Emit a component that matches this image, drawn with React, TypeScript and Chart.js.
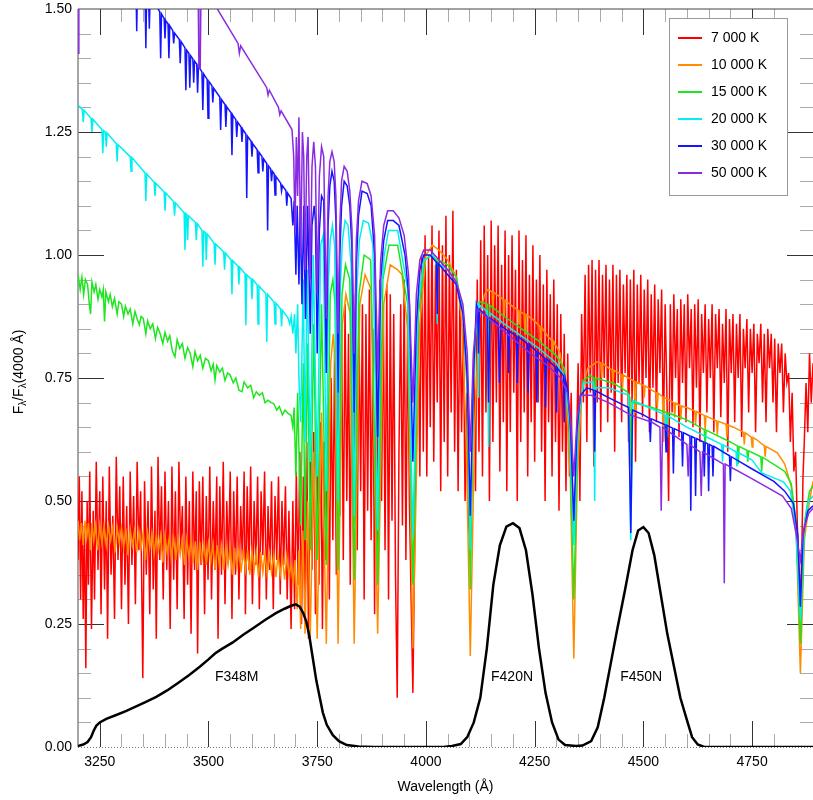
import React, { useEffect, useRef } from 'react';
import { Chart, registerables } from 'chart.js';

Chart.register(...registerables);

// ---------- data (wavelength Å, F/F(4000)) as flat pairs ----------
const seriesLabels = ['7 000 K', '10 000 K', '15 000 K', '20 000 K', '30 000 K', '50 000 K'];
const seriesColors = ['#ff0000', '#ff8c00', '#1ee61e', '#00f0f0', '#1414ff', '#8a2be2'];

const t7000 = [
  3200,0.38, 3203,0.55, 3206,0.3, 3209,0.52, 3212,0.26, 3215,0.45, 3218,0.16, 3221,0.5, 3224,0.33, 3227,0.56,
  3231,0.24, 3235,0.48, 3238,0.3, 3242,0.58, 3246,0.36, 3250,0.52, 3253,0.27, 3257,0.55, 3261,0.32, 3265,0.5,
  3268,0.22, 3272,0.57, 3276,0.35, 3280,0.47, 3284,0.26, 3288,0.59, 3292,0.38, 3296,0.53, 3300,0.28, 3304,0.55,
  3308,0.33, 3312,0.49, 3316,0.25, 3320,0.56, 3324,0.37, 3328,0.51, 3332,0.29, 3336,0.58, 3340,0.4, 3344,0.52,
  3349,0.14, 3353,0.54, 3357,0.35, 3361,0.5, 3365,0.27, 3369,0.57, 3373,0.32, 3377,0.48, 3380,0.22, 3384,0.59,
  3388,0.38, 3392,0.53, 3396,0.3, 3400,0.56, 3404,0.36, 3408,0.5, 3412,0.24, 3416,0.57, 3420,0.34, 3424,0.52,
  3428,0.28, 3432,0.58, 3436,0.4, 3440,0.49, 3444,0.26, 3448,0.55, 3452,0.33, 3456,0.5, 3460,0.23, 3464,0.56,
  3468,0.36, 3472,0.52, 3475,0.19, 3479,0.54, 3483,0.37, 3487,0.55, 3491,0.27, 3495,0.51, 3499,0.34, 3503,0.57,
  3507,0.3, 3511,0.5, 3515,0.36, 3519,0.55, 3522,0.22, 3526,0.53, 3530,0.35, 3534,0.58, 3538,0.29, 3542,0.5,
  3546,0.38, 3550,0.56, 3554,0.26, 3558,0.52, 3562,0.35, 3566,0.55, 3570,0.3, 3574,0.49, 3578,0.38, 3582,0.56,
  3585,0.27, 3589,0.53, 3593,0.36, 3597,0.57, 3601,0.29, 3605,0.5, 3609,0.37, 3613,0.55, 3617,0.28, 3621,0.52,
  3625,0.39, 3629,0.56, 3633,0.3, 3637,0.49, 3641,0.36, 3645,0.54, 3649,0.28, 3653,0.51, 3657,0.38, 3661,0.55,
  3665,0.31, 3669,0.5, 3673,0.37, 3677,0.53, 3681,0.3, 3685,0.48, 3690,0.24, 3694,0.5,
  3698,0.28, 3702,0.56, 3706,0.33, 3710,0.6, 3714,0.25, 3718,0.55, 3722,0.3, 3726,0.62, 3730,0.22, 3734,0.58,
  3738,0.36, 3742,0.64, 3746,0.27, 3750,0.6, 3754,0.33, 3758,0.66, 3762,0.24, 3766,0.62, 3770,0.38, 3774,0.7,
  3778,0.3, 3782,0.75, 3786,0.42, 3790,0.8, 3794,0.35, 3798,0.72, 3802,0.47, 3806,0.86, 3810,0.38, 3814,0.9,
  3818,0.5, 3822,0.84, 3826,0.33, 3830,0.88, 3834,0.45, 3838,0.92, 3842,0.4, 3846,0.86, 3850,0.52, 3854,0.9,
  3858,0.3, 3862,0.88, 3866,0.48, 3870,0.93, 3874,0.42, 3878,0.85, 3882,0.27, 3886,0.89, 3890,0.36, 3894,0.95,
  3898,0.5, 3902,0.9, 3906,0.4, 3910,0.94, 3914,0.3, 3918,0.92, 3922,0.46, 3926,0.88, 3930,0.35, 3934,0.1,
  3938,0.6, 3942,0.9, 3946,0.45, 3950,0.95, 3954,0.38, 3958,0.88, 3962,0.5, 3966,0.3, 3970,0.11, 3974,0.4,
  3978,0.7, 3982,0.9, 3986,0.55, 3990,1.0,
  3994,0.6, 3998,1.04, 4002,0.55, 4006,1.0, 4010,0.65, 4014,1.06, 4018,0.58, 4022,0.98, 4026,0.7, 4030,1.05,
  4034,0.52, 4038,1.02, 4042,0.62, 4046,1.08, 4050,0.55, 4054,1.0, 4058,0.68, 4062,1.09, 4066,0.6, 4070,0.97,
  4074,0.52, 4078,0.92, 4082,0.64, 4086,0.86, 4090,0.5, 4094,0.72, 4098,0.45, 4102,0.42, 4106,0.55, 4110,0.8,
  4114,0.52, 4118,0.95, 4122,0.6, 4126,1.03, 4130,0.55, 4134,1.06, 4138,0.68, 4142,1.0, 4146,0.5, 4150,1.07,
  4154,0.62, 4158,1.02, 4162,0.7, 4166,1.06, 4170,0.56, 4174,0.98, 4178,0.66, 4182,1.05, 4186,0.52, 4190,1.0,
  4194,0.64, 4198,1.04, 4202,0.72, 4206,0.97, 4210,0.5, 4214,1.05, 4218,0.62, 4222,0.99, 4226,0.68, 4230,1.04,
  4234,0.55, 4238,0.96, 4242,0.66, 4246,1.02, 4250,0.58, 4254,0.95, 4258,0.7, 4262,1.0, 4266,0.6, 4270,0.94,
  4274,0.5, 4278,0.97, 4282,0.66, 4286,0.92, 4290,0.55, 4294,0.95, 4298,0.62, 4302,0.9, 4306,0.48, 4310,0.88,
  4314,0.6, 4318,0.84, 4322,0.52, 4326,0.8, 4330,0.55, 4334,0.72, 4338,0.45, 4342,0.44, 4346,0.6, 4350,0.78,
  4354,0.5, 4358,0.88, 4362,0.7, 4366,0.96, 4370,0.62, 4374,0.98, 4378,0.72, 4382,0.99, 4386,0.57, 4390,0.97,
  4394,0.7, 4398,0.99, 4402,0.64, 4406,0.96, 4410,0.75, 4414,0.98, 4418,0.66, 4422,0.95, 4426,0.72, 4430,0.98,
  4434,0.6, 4438,0.96, 4442,0.74, 4446,0.97, 4450,0.66, 4454,0.94, 4458,0.76, 4462,0.96, 4466,0.62, 4470,0.95,
  4474,0.7, 4478,0.97, 4482,0.58, 4486,0.94, 4490,0.74, 4494,0.96, 4498,0.67, 4502,0.93, 4506,0.75, 4510,0.95,
  4514,0.64, 4518,0.92, 4522,0.73, 4526,0.94, 4530,0.66, 4534,0.91, 4538,0.76, 4542,0.93, 4546,0.62, 4550,0.9,
  4554,0.72, 4558,0.5, 4562,0.9, 4566,0.68, 4570,0.92, 4574,0.75, 4578,0.89, 4582,0.63, 4586,0.91, 4590,0.74,
  4594,0.9, 4598,0.66, 4602,0.92, 4606,0.77, 4610,0.89, 4614,0.65, 4618,0.9, 4622,0.73, 4626,0.91, 4630,0.62,
  4634,0.88, 4638,0.76, 4642,0.9, 4646,0.68, 4650,0.87, 4654,0.75, 4658,0.9, 4662,0.64, 4666,0.88, 4670,0.77,
  4674,0.89, 4678,0.67, 4682,0.86, 4686,0.74, 4690,0.89, 4694,0.6, 4698,0.87, 4702,0.76, 4706,0.88, 4710,0.66,
  4714,0.86, 4718,0.75, 4722,0.88, 4726,0.63, 4730,0.85, 4734,0.77, 4738,0.87, 4742,0.68, 4746,0.85, 4750,0.76,
  4754,0.86, 4758,0.64, 4762,0.84, 4766,0.78, 4770,0.86, 4774,0.7, 4778,0.84, 4782,0.66, 4786,0.85, 4790,0.77,
  4794,0.84, 4798,0.7, 4802,0.83, 4806,0.64, 4810,0.82, 4814,0.76, 4818,0.82, 4822,0.68, 4826,0.8, 4830,0.74,
  4834,0.76, 4838,0.62, 4842,0.72, 4846,0.56, 4850,0.6, 4854,0.45, 4858,0.36, 4861,0.3, 4864,0.38, 4867,0.55,
  4870,0.62, 4874,0.74, 4878,0.64, 4882,0.8, 4886,0.7, 4890,0.78,
];

const t10000 = [
  3200,0.46, 3204,0.42, 3208,0.455, 3212,0.41, 3216,0.46, 3220,0.425, 3224,0.455, 3228,0.4, 3232,0.455, 3236,0.42,
  3240,0.45, 3245,0.4, 3250,0.452, 3255,0.415, 3260,0.45, 3265,0.41, 3270,0.45, 3275,0.42, 3280,0.447, 3285,0.395,
  3290,0.446, 3295,0.415, 3300,0.445, 3305,0.405, 3310,0.444, 3315,0.39, 3320,0.442, 3325,0.41, 3330,0.44, 3335,0.395,
  3340,0.439, 3345,0.405, 3350,0.437, 3355,0.38, 3360,0.436, 3365,0.405, 3370,0.434, 3375,0.39, 3380,0.432, 3385,0.4,
  3390,0.43, 3395,0.375, 3400,0.429, 3405,0.395, 3410,0.427, 3415,0.385, 3420,0.425, 3425,0.38, 3430,0.424, 3435,0.39,
  3440,0.423, 3445,0.37, 3450,0.422, 3455,0.385, 3460,0.42, 3465,0.375, 3470,0.418, 3475,0.36, 3480,0.417, 3485,0.38,
  3490,0.415, 3495,0.37, 3500,0.414, 3505,0.375, 3510,0.412, 3515,0.36, 3520,0.41, 3525,0.37, 3530,0.409, 3535,0.36,
  3540,0.408, 3545,0.37, 3550,0.406, 3555,0.35, 3560,0.405, 3565,0.365, 3570,0.403, 3575,0.355, 3580,0.402, 3585,0.36,
  3590,0.4, 3595,0.35, 3600,0.399, 3605,0.36, 3610,0.397, 3615,0.345, 3620,0.396, 3625,0.355, 3630,0.394, 3635,0.35,
  3640,0.393, 3645,0.355, 3650,0.391, 3655,0.345, 3660,0.39, 3665,0.35, 3670,0.388, 3675,0.34, 3680,0.387, 3685,0.35,
  3690,0.37, 3695,0.33, 3699,0.38, 3704,0.28, 3708,0.4, 3712,0.24, 3717,0.44, 3722,0.23, 3728,0.5, 3734,0.22,
  3742,0.6, 3750,0.22, 3760,0.68, 3771,0.21, 3781,0.78, 3787,0.84, 3791,0.78, 3798,0.21, 3808,0.86, 3816,0.92,
  3826,0.88, 3835,0.21, 3848,0.9, 3860,0.96, 3874,0.93, 3889,0.23, 3903,0.9, 3918,0.98, 3935,0.97, 3945,0.96,
  3958,0.85, 3970,0.2, 3985,0.85, 4000,1.0, 4015,1.02, 4030,1.01, 4050,0.99, 4070,0.955, 4082,0.87, 4092,0.65,
  4102,0.185, 4112,0.65, 4122,0.87, 4135,0.92, 4143,0.93, 4152,0.925, 4154,0.89, 4156,0.924, 4170,0.915, 4178,0.91,
  4180,0.875, 4182,0.908, 4200,0.895, 4212,0.888, 4214,0.86, 4216,0.886, 4226,0.88, 4228,0.84, 4230,0.879, 4247,0.868,
  4262,0.855, 4264,0.825, 4266,0.853, 4280,0.835, 4290,0.826, 4292,0.8, 4294,0.824, 4309,0.8, 4322,0.72, 4332,0.55,
  4340,0.18, 4348,0.55, 4358,0.72, 4372,0.77, 4394,0.783, 4402,0.781, 4404,0.75, 4406,0.78, 4420,0.77, 4428,0.767,
  4430,0.735, 4432,0.766, 4450,0.757, 4452,0.73, 4454,0.756, 4470,0.748, 4479,0.743, 4481,0.68, 4483,0.742, 4500,0.735,
  4502,0.71, 4504,0.734, 4520,0.725, 4530,0.72, 4532,0.69, 4534,0.719, 4544,0.712, 4546,0.62, 4548,0.711, 4570,0.7,
  4572,0.67, 4574,0.699, 4584,0.694, 4586,0.665, 4588,0.693, 4600,0.69, 4618,0.683, 4620,0.655, 4622,0.682, 4640,0.674,
  4642,0.645, 4644,0.673, 4650,0.67, 4668,0.663, 4670,0.635, 4672,0.662, 4690,0.656, 4692,0.63, 4694,0.655, 4707,0.65,
  4730,0.64, 4732,0.615, 4734,0.639, 4748,0.63, 4750,0.61, 4752,0.629, 4760,0.625, 4778,0.612, 4780,0.59, 4782,0.611,
  4808,0.598, 4825,0.575, 4840,0.53, 4852,0.42, 4861,0.15, 4870,0.42, 4882,0.5, 4890,0.54,
];

const t15000 = [
  3200,0.96, 3205,0.93, 3209,0.955, 3213,0.92, 3217,0.95, 3222,0.94, 3226,0.9, 3229,0.88, 3232,0.945, 3237,0.925,
  3241,0.94, 3246,0.91, 3250,0.93, 3255,0.915, 3258,0.93, 3261,0.865, 3264,0.925, 3270,0.905, 3274,0.92, 3279,0.895,
  3284,0.912, 3290,0.88, 3294,0.905, 3300,0.9, 3305,0.875, 3309,0.896, 3315,0.88, 3320,0.89, 3326,0.86, 3331,0.885,
  3336,0.87, 3341,0.858, 3345,0.875, 3350,0.871, 3356,0.84, 3360,0.866, 3366,0.85, 3372,0.86, 3378,0.83, 3383,0.853,
  3389,0.84, 3395,0.82, 3400,0.843, 3406,0.825, 3411,0.836, 3417,0.805, 3423,0.793, 3428,0.828, 3434,0.81, 3440,0.82,
  3446,0.79, 3452,0.812, 3458,0.8, 3464,0.773, 3469,0.804, 3475,0.785, 3481,0.796, 3487,0.77, 3493,0.79, 3500,0.785,
  3506,0.765, 3511,0.778, 3515,0.746, 3519,0.775, 3526,0.762, 3532,0.77, 3538,0.745, 3544,0.76, 3550,0.756, 3557,0.74,
  3563,0.75, 3570,0.725, 3577,0.722, 3582,0.742, 3590,0.73, 3597,0.735, 3604,0.71, 3610,0.722, 3617,0.715, 3624,0.72,
  3630,0.7, 3637,0.705, 3644,0.7, 3650,0.698, 3657,0.685, 3663,0.692, 3670,0.675, 3676,0.685, 3683,0.678,
  3690,0.674, 3694,0.65, 3697,0.69, 3701,0.55, 3705,0.72, 3712,0.45, 3718,0.78, 3722,0.42, 3728,0.82, 3734,0.4,
  3742,0.86, 3750,0.38, 3760,0.9, 3771,0.37, 3780,0.92, 3786,0.95, 3791,0.9, 3798,0.36, 3807,0.92, 3815,0.98,
  3825,0.95, 3835,0.34, 3846,0.92, 3858,1.0, 3873,0.99, 3889,0.33, 3901,0.95, 3915,1.02, 3935,1.02, 3958,0.9,
  3970,0.33, 3983,0.88, 3997,0.99, 4015,1.0, 4024,0.99, 4026,0.9, 4028,0.99, 4050,0.98, 4070,0.955, 4086,0.88,
  4095,0.72, 4102,0.32, 4109,0.72, 4117,0.9, 4125,0.905, 4141,0.9, 4144,0.78, 4147,0.898, 4180,0.875, 4220,0.85,
  4260,0.825, 4300,0.795, 4318,0.77, 4330,0.65, 4340,0.3, 4350,0.65, 4362,0.745, 4378,0.755, 4386,0.75, 4388,0.62,
  4390,0.75, 4430,0.74, 4463,0.722, 4469,0.71, 4471,0.57, 4474,0.7, 4477,0.7, 4520,0.69, 4553,0.68, 4555,0.63,
  4557,0.679, 4600,0.665, 4640,0.645, 4642,0.61, 4644,0.644, 4700,0.62, 4716,0.612, 4718,0.575, 4720,0.611, 4738,0.603,
  4740,0.58, 4742,0.602, 4770,0.59, 4772,0.56, 4774,0.589, 4808,0.57, 4825,0.56, 4840,0.535, 4851,0.46, 4861,0.21,
  4871,0.46, 4882,0.52, 4890,0.53,
];

const t20000 = [
  3200,1.305, 3210,1.296, 3212,1.27, 3214,1.294, 3230,1.278, 3232,1.25, 3234,1.276, 3255,1.255, 3257,1.207, 3259,1.253,
  3263,1.25, 3265,1.22, 3267,1.248, 3288,1.226, 3290,1.19, 3292,1.224, 3320,1.2, 3322,1.17, 3324,1.198, 3354,1.167,
  3356,1.11, 3358,1.165, 3375,1.148, 3377,1.12, 3379,1.146, 3398,1.128, 3400,1.09, 3402,1.126, 3420,1.108, 3422,1.08,
  3424,1.106, 3444,1.086, 3446,1.01, 3448,1.084, 3450,1.082, 3452,1.03, 3454,1.08, 3470,1.066, 3472,1.03, 3474,1.064,
  3485,1.05, 3487,0.976, 3489,1.048, 3493,1.045, 3495,0.99, 3497,1.043, 3513,1.024, 3515,0.98, 3517,1.022, 3535,1.006,
  3537,0.97, 3539,1.004, 3552,0.99, 3554,0.92, 3556,0.988, 3568,0.977, 3570,0.94, 3572,0.975, 3584,0.962, 3586,0.857,
  3588,0.96, 3598,0.951, 3600,0.91, 3602,0.95, 3612,0.939, 3614,0.86, 3616,0.937, 3632,0.921, 3634,0.823, 3636,0.92,
  3651,0.904, 3653,0.86, 3655,0.902, 3666,0.89, 3668,0.855, 3670,0.888, 3683,0.872, 3687,0.86, 3690,0.875, 3694,0.84,
  3698,0.88, 3701,0.8, 3705,0.9, 3708,0.75, 3712,0.66, 3718,0.95, 3722,0.62, 3727,0.97, 3734,0.58, 3741,1.0,
  3750,0.55, 3758,1.02, 3764,1.04, 3771,0.52, 3776,0.95, 3780,1.03, 3785,1.06, 3790,1.02, 3798,0.5, 3803,0.93,
  3808,1.03, 3814,1.07, 3821,1.06, 3828,0.98, 3835,0.47, 3841,0.93, 3847,1.03, 3856,1.07, 3868,1.065, 3878,1.02,
  3889,0.44, 3896,0.9, 3904,1.0, 3914,1.05, 3935,1.05, 3958,0.93,
  3970,0.43, 3982,0.9, 3995,0.99, 4015,1.0, 4024,0.985, 4026,0.86, 4028,0.983, 4050,0.97, 4070,0.945, 4085,0.89,
  4095,0.75, 4102,0.4, 4109,0.75, 4117,0.895, 4119,0.9, 4121,0.71, 4123,0.898, 4141,0.885, 4144,0.61, 4147,0.882,
  4180,0.86, 4220,0.835, 4260,0.81, 4300,0.78, 4318,0.755, 4330,0.66, 4340,0.41, 4350,0.66, 4362,0.74, 4384,0.742,
  4386,0.73, 4388,0.5, 4390,0.73, 4420,0.73, 4466,0.715, 4471,0.42, 4476,0.705, 4500,0.695, 4550,0.675, 4552,0.64,
  4554,0.674, 4600,0.65, 4650,0.628, 4680,0.615, 4682,0.58, 4684,0.614, 4713,0.6, 4715,0.57, 4717,0.599, 4750,0.583,
  4772,0.557, 4800,0.547, 4822,0.539, 4838,0.52, 4850,0.45, 4861,0.258, 4870,0.45, 4880,0.5, 4890,0.51,
];

const t30000 = [
  3200,1.73, 3333,1.564, 3335,1.455, 3337,1.561, 3354,1.54, 3356,1.42, 3358,1.537, 3362,1.532, 3364,1.46, 3366,1.53,
  3388,1.494, 3390,1.4, 3392,1.49, 3398,1.481, 3400,1.44, 3402,1.476, 3407,1.47, 3409,1.4, 3411,1.466, 3418,1.456,
  3420,1.43, 3422,1.451, 3433,1.438, 3435,1.39, 3437,1.434, 3446,1.421, 3448,1.335, 3450,1.416, 3455,1.41, 3457,1.34,
  3459,1.405, 3464,1.399, 3466,1.35, 3468,1.394, 3473,1.388, 3475,1.33, 3477,1.384, 3485,1.372, 3487,1.295, 3489,1.368,
  3497,1.357, 3499,1.278, 3501,1.353, 3508,1.344, 3510,1.31, 3512,1.339, 3526,1.321, 3528,1.254, 3530,1.316, 3538,1.306,
  3540,1.26, 3542,1.301, 3552,1.289, 3554,1.203, 3556,1.284, 3563,1.275, 3565,1.24, 3567,1.27, 3575,1.26, 3577,1.23,
  3579,1.255, 3586,1.246, 3588,1.116, 3590,1.241, 3598,1.231, 3600,1.2, 3602,1.226, 3612,1.214, 3614,1.167, 3616,1.209,
  3623,1.2, 3625,1.17, 3627,1.195, 3634,1.186, 3636,1.05, 3638,1.181, 3643,1.175, 3645,1.15, 3647,1.17, 3651,1.165,
  3653,1.122, 3655,1.16, 3666,1.146, 3668,1.13, 3670,1.141, 3678,1.131, 3680,1.1, 3682,1.126, 3690,1.115,
  3694,1.06, 3697,1.11, 3701,0.96, 3704,1.1, 3708,0.94, 3711,1.1, 3715,0.9, 3719,1.1, 3723,0.87, 3728,1.1,
  3734,0.84, 3738,1.06, 3743,1.1, 3746,1.07, 3750,0.8, 3755,1.05, 3760,1.12, 3765,1.11, 3771,0.76, 3775,1.06,
  3779,1.14, 3784,1.17, 3789,1.15, 3793,1.07, 3798,0.72, 3802,1.0, 3806,1.1, 3812,1.15, 3819,1.14, 3825,1.1,
  3830,1.01, 3835,0.68, 3840,0.98, 3845,1.08, 3853,1.13, 3865,1.125, 3874,1.1, 3882,1.0, 3889,0.63, 3896,0.95,
  3903,1.03, 3912,1.07, 3925,1.07, 3938,1.06, 3952,1.0, 3962,0.9, 3970,0.58, 3978,0.86, 3986,0.97, 3995,1.0,
  4010,1.0, 4024,0.985, 4026,0.88, 4028,0.983, 4050,0.96, 4070,0.94, 4085,0.88, 4095,0.75, 4102,0.47, 4109,0.75,
  4116,0.9, 4119,0.89, 4121,0.8, 4123,0.89, 4141,0.875, 4144,0.7, 4147,0.872, 4166,0.86, 4169,0.74, 4172,0.857,
  4188,0.846, 4190,0.76, 4192,0.845, 4208,0.835, 4210,0.74, 4212,0.834, 4233,0.82, 4235,0.72, 4237,0.818, 4253,0.805,
  4255,0.7, 4257,0.803, 4273,0.79, 4275,0.69, 4277,0.789, 4298,0.772, 4300,0.68, 4302,0.77, 4316,0.755, 4318,0.66,
  4320,0.75, 4327,0.72, 4333,0.64, 4340,0.46, 4347,0.64, 4355,0.715, 4370,0.73, 4386,0.725, 4388,0.6, 4390,0.724,
  4420,0.71, 4466,0.69, 4471,0.435, 4475,0.685, 4500,0.675, 4514,0.668, 4516,0.62, 4518,0.667, 4550,0.655, 4552,0.6,
  4554,0.654, 4567,0.648, 4569,0.556, 4571,0.647, 4588,0.64, 4590,0.57, 4592,0.639, 4607,0.632, 4609,0.48, 4611,0.631,
  4618,0.628, 4620,0.51, 4622,0.627, 4638,0.62, 4640,0.55, 4642,0.619, 4648,0.616, 4650,0.52, 4652,0.615, 4658,0.612,
  4660,0.55, 4662,0.611, 4698,0.592, 4700,0.54, 4702,0.59, 4750,0.565, 4800,0.54, 4825,0.52, 4845,0.495, 4855,0.43,
  4861,0.285, 4867,0.43, 4878,0.48, 4890,0.49,
];

const t50000 = [
  3200,1.41, 3202,1.95, 3476,1.56, 3478,1.38, 3481,1.38, 3483,1.555, 3568,1.43, 3571,1.41, 3574,1.425, 3634,1.34,
  3637,1.325, 3640,1.335, 3661,1.3, 3664,1.285, 3667,1.293, 3692,1.255, 3696,1.2, 3699,1.05, 3702,1.24, 3705,1.12,
  3708,1.28, 3712,1.0, 3716,1.25, 3719,1.2, 3722,0.97, 3726,1.2, 3729,1.24, 3734,0.95, 3738,1.18, 3742,1.23,
  3746,1.18, 3750,0.92, 3755,1.16, 3760,1.22, 3765,1.2, 3771,0.87, 3775,1.12, 3779,1.19, 3784,1.21, 3789,1.19,
  3793,1.12, 3798,0.84, 3802,1.06, 3806,1.15, 3812,1.18, 3819,1.17, 3825,1.13, 3830,1.05, 3835,0.8, 3840,1.03,
  3845,1.11, 3853,1.15, 3865,1.145, 3874,1.12, 3882,1.04, 3889,0.76, 3896,0.99, 3903,1.06, 3912,1.09, 3925,1.09,
  3938,1.075, 3950,1.04, 3960,0.96, 3970,0.7, 3978,0.92, 3986,0.99, 3995,1.01, 4010,1.01, 4030,0.99, 4050,0.97,
  4070,0.945, 4085,0.9, 4095,0.8, 4102,0.6, 4109,0.8, 4118,0.89, 4160,0.86, 4200,0.83, 4240,0.8, 4280,0.775,
  4310,0.75, 4325,0.72, 4333,0.66, 4340,0.55, 4347,0.66, 4356,0.715, 4380,0.715, 4420,0.7, 4470,0.675, 4520,0.66,
  4538,0.65, 4541,0.48, 4544,0.65, 4560,0.64, 4600,0.615, 4603,0.55, 4606,0.615, 4630,0.6, 4633,0.51, 4636,0.6,
  4684,0.575, 4686,0.333, 4688,0.575, 4740,0.55, 4790,0.525, 4820,0.51, 4840,0.485, 4852,0.43, 4861,0.38, 4868,0.44,
  4880,0.475, 4890,0.485,
];

const filterCurve = [
  3200,0.002, 3212,0.005, 3222,0.01, 3230,0.02, 3236,0.033, 3242,0.043, 3250,0.05, 3265,0.057, 3285,0.064, 3310,0.073,
  3335,0.083, 3355,0.091, 3380,0.102, 3405,0.115, 3430,0.13, 3455,0.146, 3480,0.163, 3500,0.178, 3515,0.19, 3530,0.199,
  3555,0.212, 3580,0.228, 3605,0.243, 3630,0.258, 3655,0.272, 3675,0.281, 3690,0.287, 3701,0.29, 3710,0.285, 3718,0.272,
  3725,0.255, 3732,0.225, 3740,0.18, 3748,0.135, 3756,0.1, 3763,0.07, 3772,0.045, 3786,0.024, 3800,0.012, 3818,0.004,
  3845,0.001, 3880,0, 4040,0, 4060,0.002, 4080,0.006, 4095,0.02, 4110,0.05, 4125,0.1, 4140,0.2, 4155,0.33,
  4170,0.41, 4185,0.448, 4200,0.455, 4215,0.445, 4230,0.4, 4245,0.31, 4260,0.2, 4275,0.11, 4290,0.05, 4305,0.015,
  4320,0.004, 4345,0.002, 4360,0.003, 4380,0.012, 4395,0.04, 4410,0.1, 4425,0.17, 4440,0.24, 4458,0.32, 4475,0.4,
  4488,0.44, 4500,0.447, 4512,0.435, 4525,0.39, 4540,0.31, 4555,0.23, 4570,0.165, 4585,0.1, 4600,0.055, 4612,0.02,
  4625,0.005, 4640,0, 4890,0,
];

const filterNames = ['F348M', 'F420N', 'F450N'];
const filterLabelX = [3565, 4198, 4495];
const filterLabelY = 0.142;

const xMajorTicks = [3250, 3500, 3750, 4000, 4250, 4500, 4750];
const yMajorTicks = [0, 0.25, 0.5, 0.75, 1.0, 1.25, 1.5];

const FONT = '"Liberation Sans", Arial, Helvetica, sans-serif';

function toPoints(a: number[]) {
  const out: { x: number; y: number }[] = [];
  for (let i = 0; i < a.length; i += 2) out.push({ x: a[i], y: a[i + 1] });
  return out;
}

const isMajorY = (v: number) => yMajorTicks.some((t) => Math.abs(t - v) < 1e-6);
const isMajorX = (v: number) => xMajorTicks.some((t) => Math.abs(t - v) < 1e-6);

const framePlugin = {
  id: 'frame',
  beforeDatasetsDraw(chart: any) {
    const { ctx, chartArea, scales } = chart;
    const { left, right, top, bottom } = chartArea;
    const xs = scales.x;
    const ys = scales.y;
    ctx.save();
    ctx.lineWidth = 1;
    xs.ticks.forEach((t: any) => {
      const v = t.value;
      if (Math.abs(v / 50 - Math.round(v / 50)) > 1e-6) return;
      if (v <= xs.min || v >= xs.max) return;
      const major = isMajorX(v);
      const len = major ? 26 : 13;
      const px = Math.round(xs.getPixelForValue(v)) + 0.5;
      ctx.strokeStyle = major ? '#333' : '#aaa';
      ctx.beginPath();
      ctx.moveTo(px, bottom);
      ctx.lineTo(px, bottom - len);
      ctx.moveTo(px, top);
      ctx.lineTo(px, top + len);
      ctx.stroke();
    });
    ys.ticks.forEach((t: any) => {
      const v = t.value;
      if (v <= ys.min + 1e-9 || v >= ys.max - 1e-9) return;
      const major = isMajorY(v);
      const len = major ? 26 : 13;
      const py = Math.round(ys.getPixelForValue(v)) + 0.5;
      ctx.strokeStyle = major ? '#333' : '#aaa';
      ctx.beginPath();
      ctx.moveTo(left, py);
      ctx.lineTo(left + len, py);
      ctx.moveTo(right, py);
      ctx.lineTo(right - len, py);
      ctx.stroke();
    });
    // borders
    ctx.strokeStyle = '#888';
    ctx.lineWidth = 1.5;
    ctx.beginPath();
    ctx.moveTo(left, top);
    ctx.lineTo(left, bottom);
    ctx.stroke();
    ctx.strokeStyle = '#444';
    ctx.lineWidth = 1.2;
    ctx.beginPath();
    ctx.moveTo(left, top);
    ctx.lineTo(right, top);
    ctx.stroke();
    ctx.strokeStyle = '#777';
    ctx.lineWidth = 1;
    ctx.setLineDash([1, 2]);
    ctx.beginPath();
    ctx.moveTo(left, bottom + 0.5);
    ctx.lineTo(right, bottom + 0.5);
    ctx.stroke();
    ctx.restore();
  },
  afterDatasetsDraw(chart: any) {
    const { ctx, chartArea, scales } = chart;
    const xs = scales.x;
    const ys = scales.y;
    ctx.save();
    // filter labels
    ctx.fillStyle = '#000';
    ctx.font = `14px ${FONT}`;
    ctx.textAlign = 'center';
    ctx.textBaseline = 'middle';
    filterNames.forEach((n, i) => {
      ctx.fillText(n, xs.getPixelForValue(filterLabelX[i]), ys.getPixelForValue(filterLabelY));
    });
    // legend
    const lx = 669, ly = 18, lw = 118, lh = 177;
    ctx.fillStyle = '#fff';
    ctx.fillRect(lx, ly, lw, lh);
    ctx.strokeStyle = '#999';
    ctx.lineWidth = 1;
    ctx.strokeRect(lx + 0.5, ly + 0.5, lw, lh);
    ctx.textAlign = 'left';
    seriesLabels.forEach((lab, i) => {
      const yy = 38 + i * 27;
      ctx.strokeStyle = seriesColors[i];
      ctx.lineWidth = 2;
      ctx.beginPath();
      ctx.moveTo(678, yy);
      ctx.lineTo(702, yy);
      ctx.stroke();
      ctx.fillStyle = '#000';
      ctx.fillText(lab, 711, yy);
    });
    // axis titles
    ctx.textAlign = 'center';
    ctx.fillText('Wavelength (Å)', (chartArea.left + chartArea.right) / 2, 787);
    ctx.translate(19, 372);
    ctx.rotate(-Math.PI / 2);
    const big = `14px ${FONT}`;
    const small = `10px ${FONT}`;
    const parts: [string, string, number][] = [
      ['F', big, 0], ['λ', small, 4], ['/F', big, 0], ['λ', small, 4], ['(4000 Å)', big, 0],
    ];
    let total = 0;
    parts.forEach(([s, f]) => { ctx.font = f; total += ctx.measureText(s).width; });
    let cx = -total / 2;
    ctx.textAlign = 'left';
    parts.forEach(([s, f, dy]) => {
      ctx.font = f;
      ctx.fillText(s, cx, dy);
      cx += ctx.measureText(s).width;
    });
    ctx.restore();
  },
};

export default function App() {
  const ref = useRef<HTMLCanvasElement | null>(null);
  useEffect(() => {
    if (!ref.current) return;
    const spectra = [t7000, t10000, t15000, t20000, t30000, t50000];
    const datasets: any[] = spectra.map((arr, i) => ({
      label: seriesLabels[i],
      data: toPoints(arr),
      borderColor: seriesColors[i],
      backgroundColor: seriesColors[i],
      borderWidth: 1.5,
      showLine: true,
      pointRadius: 0,
      order: 6 - i,
    }));
    datasets.push({
      label: 'filters',
      data: toPoints(filterCurve),
      borderColor: '#000',
      backgroundColor: '#000',
      borderWidth: 2.5,
      showLine: true,
      pointRadius: 0,
      order: 0,
    });
    const chart = new Chart(ref.current, {
      type: 'scatter',
      data: { datasets },
      plugins: [framePlugin],
      options: {
        animation: false,
        responsive: false,
        maintainAspectRatio: false,
        layout: { padding: { top: 9, left: 0, right: 0, bottom: 0 } },
        plugins: { legend: { display: false }, tooltip: { enabled: false } },
        elements: { line: { tension: 0 }, point: { radius: 0 } },
        scales: {
          x: {
            type: 'linear',
            min: 3200,
            max: 4890,
            border: { display: false },
            grid: { display: false, drawTicks: false },
            ticks: {
              stepSize: 50,
              autoSkip: false,
              maxRotation: 0,
              padding: 7,
              color: '#000',
              font: { size: 14, family: FONT },
              callback: (v: any) => (isMajorX(Number(v)) ? String(v) : ''),
            },
            afterFit: (s: any) => {
              s.height = 53;
              s.paddingLeft = 0;
              s.paddingRight = 0;
            },
          },
          y: {
            type: 'linear',
            min: 0,
            max: 1.5,
            border: { display: false },
            grid: { display: false, drawTicks: false },
            ticks: {
              stepSize: 0.05,
              autoSkip: false,
              padding: 6,
              color: '#000',
              font: { size: 14, family: FONT },
              callback: (v: any) => (isMajorY(Number(v)) ? Number(v).toFixed(2) : ''),
            },
            afterFit: (s: any) => {
              s.width = 78;
              s.paddingTop = 0;
              s.paddingBottom = 0;
            },
          },
        },
      } as any,
    });
    return () => chart.destroy();
  }, []);
  return (
    <div style={{ position: 'absolute', left: 0, top: 0, width: 813, height: 800, background: '#fff' }}>
      <canvas ref={ref} width={813} height={800} style={{ display: 'block' }} />
    </div>
  );
}
